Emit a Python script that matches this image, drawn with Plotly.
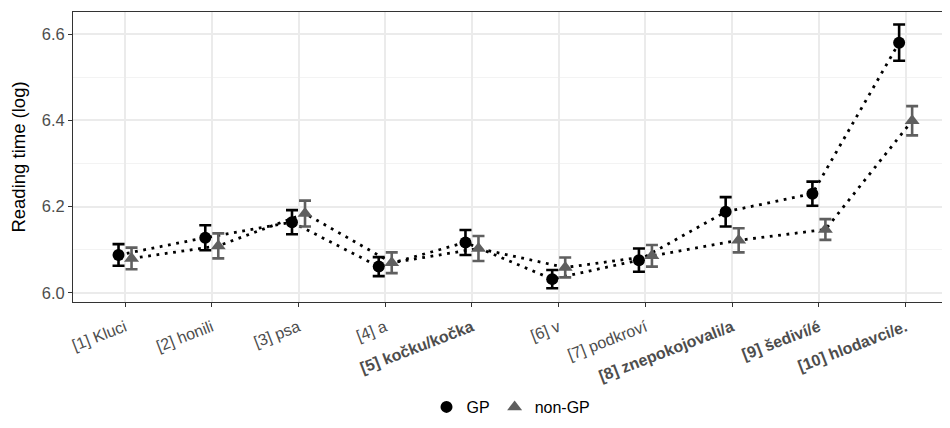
import plotly.graph_objects as go

labels = ["[1] Kluci", "[2] honili", "[3] psa", "[4] a", "<b>[5] kočku/kočka</b>",
          "[6] v", "[7] podkroví", "<b>[8] znepokojovali/a</b>", "<b>[9] šediví/é</b>",
          "<b>[10] hlodavci/e.</b>"]
gp_mean = [6.088, 6.128, 6.164, 6.061, 6.117, 6.032, 6.076, 6.188, 6.230, 6.580]
gp_err = [0.025, 0.029, 0.028, 0.022, 0.029, 0.021, 0.027, 0.034, 0.028, 0.042]
ngp_mean = [6.080, 6.109, 6.184, 6.070, 6.103, 6.059, 6.086, 6.122, 6.147, 6.399]
ngp_err = [0.025, 0.029, 0.030, 0.024, 0.029, 0.023, 0.025, 0.028, 0.024, 0.034]

dodge = 0.075
idx = list(range(len(labels)))
x_gp = [i - dodge for i in idx]
x_ngp = [i + dodge for i in idx]

fig = go.Figure()
dash = "2.8px,5.6px"
fig.add_trace(go.Scatter(x=x_gp, y=gp_mean, mode="lines", showlegend=False,
                         line=dict(color="black", width=2.8, dash=dash), hoverinfo="skip"))
fig.add_trace(go.Scatter(x=x_ngp, y=ngp_mean, mode="lines", showlegend=False,
                         line=dict(color="black", width=2.8, dash=dash), hoverinfo="skip"))
fig.add_trace(go.Scatter(x=x_gp, y=gp_mean, mode="markers", name="GP",
                         marker=dict(symbol="circle", size=12, color="black"),
                         error_y=dict(type="data", array=gp_err, color="black",
                                      thickness=2.6, width=6)))
fig.add_trace(go.Scatter(x=x_ngp, y=ngp_mean, mode="markers", name="non-GP",
                         marker=dict(symbol="triangle-up", size=13, color="#5f5f5f"),
                         error_y=dict(type="data", array=ngp_err, color="#5f5f5f",
                                      thickness=2.6, width=6)))

fig.update_layout(
    width=942, height=420,
    margin=dict(l=65, r=1, t=4, b=126),
    paper_bgcolor="white", plot_bgcolor="white",
    font=dict(family="Liberation Sans, Arial, sans-serif", color="black"),
    showlegend=True,
    legend=dict(orientation="h", x=0.5, xanchor="center", y=-0.362, yanchor="middle",
                font=dict(size=16, color="black"), itemwidth=30, tracegroupgap=0),
    xaxis=dict(
        range=[-0.6, 9.5], tickmode="array", tickvals=idx, ticktext=labels,
        tickangle=-21, tickfont=dict(size=16, color="#4d4d4d"), ticklabelstandoff=5,
        showgrid=True, gridcolor="#ebebeb", gridwidth=1.6,
        ticks="outside", ticklen=4, tickcolor="#333333", tickwidth=1,
        showline=True, mirror=True, linecolor="#333333", linewidth=1,
        zeroline=False,
    ),
    yaxis=dict(
        range=[5.979, 6.651], tickmode="array", tickvals=[6.0, 6.2, 6.4, 6.6],
        ticktext=["6.0", "6.2", "6.4", "6.6"],
        tickfont=dict(size=16.5, color="#4d4d4d"),
        title=dict(text="Reading time (log)", font=dict(size=18.5, color="black"), standoff=12),
        showgrid=True, gridcolor="#ebebeb", gridwidth=1.6,
        minor=dict(tickvals=[6.1, 6.3, 6.5], showgrid=True, gridcolor="#f3f3f3", gridwidth=1),
        ticks="outside", ticklen=4, tickcolor="#333333", tickwidth=1,
        showline=True, mirror=True, linecolor="#333333", linewidth=1,
        zeroline=False,
    ),
)

fig.write_html("out.html")
